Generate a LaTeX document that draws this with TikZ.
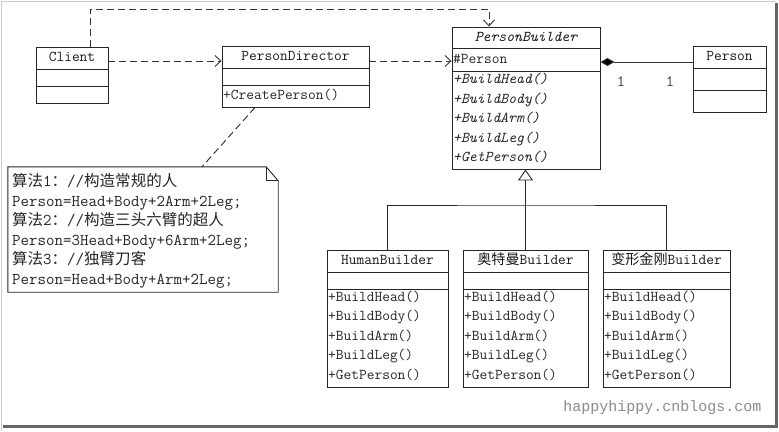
\documentclass[tikz,border=0pt]{standalone}
\usepackage{fontspec}
\newfontfamily\wmfont{Liberation Mono}
\newfontfamily\cjk[Scale=0.94]{Noto Sans CJK SC}
\usetikzlibrary{arrows.meta,calc}
\begin{document}
\begin{tikzpicture}[x=1pt,y=-1pt,
  box/.style={draw=black!85, line width=0.9pt, inner sep=0pt},
  sep/.style={draw=black!85, line width=0.9pt},
  txt/.style={inner sep=0pt, text height=0.88em, text depth=0.1em},
  ttl/.style={txt, font=\ttfamily\fontsize{15}{16}\selectfont, text=black!90},
  op/.style={txt, font=\ttfamily\fontsize{15}{16}\selectfont, anchor=west, text=black!85},
  iop/.style={op, font=\ttfamily\fontsize{15}{16}\selectfont\itshape},
  nt/.style={txt, font=\ttfamily\fontsize{16.5}{17}\selectfont, anchor=west, text=black!85},
  dep/.style={draw=black!80, line width=0.9pt, dash pattern=on 7pt off 4pt, -{Straight Barb[length=6pt,width=11pt]}},
  notelink/.style={draw=black!85, line width=0.9pt, dash pattern=on 7pt off 4pt},
  comp/.style={draw=black!80, line width=0.9pt, {Diamond[length=14pt,width=8pt,fill=black]}-},
  gen/.style={draw=black!85, line width=0.9pt},
  lbl/.style={txt, font=\ttfamily\fontsize{16}{16}\selectfont, text=black!75}
]
\useasboundingbox (0,0) rectangle (779,431);
\fill[white] (0,0) rectangle (779,431);
% frame
\draw[black!20, line width=1pt] (1.5,431) -- (1.5,1.5) -- (776,1.5);
\fill[black!60] (774.5,3) rectangle (777.5,428);
\fill[black!60] (3,425) rectangle (777.5,428);

% Client
\node[box, minimum width=72pt, minimum height=56pt] (client) at (72,75) {};
\draw[sep] (36,69) -- (108,69) (36,86) -- (108,86);
\node[ttl] (clientT) at (72,58) {Client};

% PersonDirector
\node[box, minimum width=147pt, minimum height=61pt] (pd) at (295.5,76.5) {};
\draw[sep] (222,68) -- (369,68) (222,85) -- (369,85);
\node[ttl] (pdT) at (295.5,57) {PersonDirector};
\node[op] (pdO) at (223,96) {+CreatePerson()};

% PersonBuilder
\node[box, minimum width=148pt, minimum height=142pt] (pb) at (526,98) {};
\draw[sep] (452,48) -- (600,48) (452,71) -- (600,71);
\node[ttl, font=\ttfamily\fontsize{15}{16}\selectfont\itshape] (pbT) at (526,37.5) {PersonBuilder};
\node[op] (pbA) at (453,59.5) {\#Person};
\node[iop] (pb1) at (453,80) {+BuildHead()};
\node[iop] (pb2) at (453,99.5) {+BuildBody()};
\node[iop] (pb3) at (453,119) {+BuildArm()};
\node[iop] (pb4) at (453,138.5) {+BuildLeg()};
\node[iop] (pb5) at (453,158) {+GetPerson()};

% Person
\node[box, minimum width=73pt, minimum height=66pt] (p) at (729.5,79) {};
\draw[sep] (693,68) -- (766,68) (693,90) -- (766,90);
\node[ttl] (pT) at (729.5,57) {Person};

% Builders
\node[box, minimum width=121pt, minimum height=137pt] (hb) at (387.5,318.5) {};
\draw[sep] (327,272) -- (448,272) (327,289) -- (448,289);
\node[ttl] (hbT) at (387.5,261) {HumanBuilder};
\node[op] (hb1) at (328,298) {+BuildHead()};
\node[op] (hb2) at (328,317) {+BuildBody()};
\node[op] (hb3) at (328,336.5) {+BuildArm()};
\node[op] (hb4) at (328,356) {+BuildLeg()};
\node[op] (hb5) at (328,375.5) {+GetPerson()};

\node[box, minimum width=125pt, minimum height=137pt] (ob) at (525.5,318.5) {};
\draw[sep] (463,272) -- (588,272) (463,289) -- (588,289);
\node[ttl] (obT) at (525.5,261) {{\cjk 奥特曼}Builder};
\node[op] (ob1) at (464,298) {+BuildHead()};
\node[op] (ob2) at (464,317) {+BuildBody()};
\node[op] (ob3) at (464,336.5) {+BuildArm()};
\node[op] (ob4) at (464,356) {+BuildLeg()};
\node[op] (ob5) at (464,375.5) {+GetPerson()};

\node[box, minimum width=127pt, minimum height=137pt] (tb) at (666.5,318.5) {};
\draw[sep] (603,272) -- (730,272) (603,289) -- (730,289);
\node[ttl] (tbT) at (666.5,261) {{\cjk 变形金刚}Builder};
\node[op] (tb1) at (604,298) {+BuildHead()};
\node[op] (tb2) at (604,317) {+BuildBody()};
\node[op] (tb3) at (604,336.5) {+BuildArm()};
\node[op] (tb4) at (604,356) {+BuildLeg()};
\node[op] (tb5) at (604,375.5) {+GetPerson()};

% Note
\node[minimum width=270pt, minimum height=125pt, inner sep=0pt] (note) at (143,229.5) {};
\draw[box] (note.north west) -- ($(note.north east)+(-12,0)$) -- ($(note.north east)+(0,14)$) -- (note.south east) -- (note.south west) -- cycle;
\draw[box] ($(note.north east)+(-12,0)$) -- ($(note.north east)+(-12,14)$) -- ($(note.north east)+(0,14)$);
\node[nt] (n1) at (12,183) {{\cjk 算法}1{\cjk ：}//{\cjk 构造常规的人}};
\node[nt] (n2) at (12,203) {Person=Head+Body+2Arm+2Leg;};
\node[nt] (n3) at (12,222) {{\cjk 算法}2{\cjk ：}//{\cjk 构造三头六臂的超人}};
\node[nt] (n4) at (12,242) {Person=3Head+Body+6Arm+2Leg;};
\node[nt] (n5) at (12,261) {{\cjk 算法}3{\cjk ：}//{\cjk 独臂刀客}};
\node[nt] (n6) at (12,281) {Person=Head+Body+Arm+2Leg;};

% connectors
\draw[notelink] (pd.south -| 255,0) -- (note.north -| 202,0);
\draw[dep] (client.east |- 0,61) -- (pd.west |- 0,61);
\draw[dep] (pd.east |- 0,61) -- (pb.west |- 0,61);
\coordinate (c1) at (90,9);
\coordinate (c2) at (489,9);
\draw[dep] (client.north -| c1) -- (c1) -- (c2) -- (pb.north -| c2);
\draw[comp] (pb.east |- 0,62) -- (p.west |- 0,62);
\node[lbl] (m1) at (621,83) {1};
\node[lbl] (m2) at (670,83) {1};

\coordinate (jn) at (ob.north |- 0,205);
\draw[gen] (hb.north) |- (jn) -| (tb.north);
\draw[gen, -{Triangle[open, length=11pt, width=15pt, fill=white]}] (ob.north) -- (ob.north |- pb.south);

% watermark
\node[font=\wmfont\fontsize{15}{15}\selectfont, text=black!45, inner sep=0pt] (wm) at (662.5,408) {happyhippy.cnblogs.com};
\end{tikzpicture}
\end{document}
